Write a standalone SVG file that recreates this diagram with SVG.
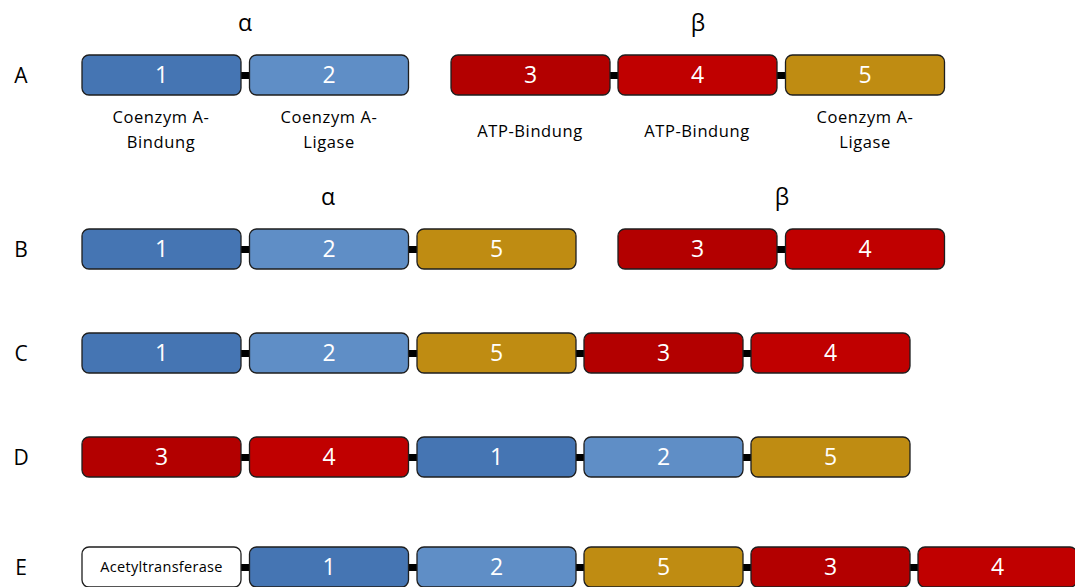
<svg xmlns="http://www.w3.org/2000/svg" width="1075" height="587" viewBox="0 0 1075 587">
<style>
text{font-family:"Open Sans","Liberation Sans",sans-serif;text-anchor:middle}
.box{stroke:#1e1e1e;stroke-width:1.3}
.c1{fill:#4575b3}.c2{fill:#5f8ec6}.c3{fill:#b30000}.c4{fill:#c00000}.c5{fill:#bf8c12}.cw{fill:#fff}
.num{fill:#fff;font-size:23px}
.row{font-size:21px;fill:#000}
.greek{font-size:23px;fill:#000}
.sub{font-size:16.5px;letter-spacing:0.6px;fill:#000}
.conn{fill:#000}
</style>
<defs>
<rect id="b" class="box" width="159" height="40" rx="7"/>
</defs>
<g id="connectors">
<rect class="conn" x="240" y="72" width="10" height="7"/>
<rect class="conn" x="609" y="72" width="10" height="7"/>
<rect class="conn" x="776" y="72" width="10" height="7"/>
<rect class="conn" x="240" y="246" width="10" height="7"/>
<rect class="conn" x="408" y="246" width="10" height="7"/>
<rect class="conn" x="776" y="246" width="10" height="7"/>
<rect class="conn" x="240" y="350" width="10" height="7"/>
<rect class="conn" x="408" y="350" width="10" height="7"/>
<rect class="conn" x="575" y="350" width="10" height="7"/>
<rect class="conn" x="742" y="350" width="10" height="7"/>
<rect class="conn" x="240" y="454" width="10" height="7"/>
<rect class="conn" x="408" y="454" width="10" height="7"/>
<rect class="conn" x="575" y="454" width="10" height="7"/>
<rect class="conn" x="742" y="454" width="10" height="7"/>
<rect class="conn" x="240" y="564" width="10" height="7"/>
<rect class="conn" x="408" y="564" width="10" height="7"/>
<rect class="conn" x="575" y="564" width="10" height="7"/>
<rect class="conn" x="742" y="564" width="10" height="7"/>
<rect class="conn" x="909" y="564" width="10" height="7"/>
</g>
<g id="labels">
<text class="row" x="21" y="83">A</text>
<text class="row" x="21" y="257">B</text>
<text class="row" x="21" y="361">C</text>
<text class="row" x="21" y="465">D</text>
<text class="row" x="21" y="575">E</text>
<text class="greek" x="245" y="31">α</text>
<text class="greek" x="698" y="31">β</text>
<text class="greek" x="328" y="205">α</text>
<text class="greek" x="782" y="205">β</text>
<text class="sub" x="161" y="123">Coenzym A-</text>
<text class="sub" x="161" y="148">Bindung</text>
<text class="sub" x="329" y="123">Coenzym A-</text>
<text class="sub" x="329" y="148">Ligase</text>
<text class="sub" x="530" y="137">ATP-Bindung</text>
<text class="sub" x="697" y="137">ATP-Bindung</text>
<text class="sub" x="865" y="123">Coenzym A-</text>
<text class="sub" x="865" y="148">Ligase</text>
</g>
<g id="rowA">
<g id="A1"><use href="#b" x="82" y="55" class="c1"/><text class="num" x="161.5" y="83">1</text></g>
<g id="A2"><use href="#b" x="249.5" y="55" class="c2"/><text class="num" x="329" y="83">2</text></g>
<g id="A3"><use href="#b" x="451" y="55" class="c3"/><text class="num" x="530.5" y="83">3</text></g>
<g id="A4"><use href="#b" x="618" y="55" class="c4"/><text class="num" x="697.5" y="83">4</text></g>
<g id="A5"><use href="#b" x="785.5" y="55" class="c5"/><text class="num" x="865" y="83">5</text></g>
</g>
<g id="rowB">
<g id="B1"><use href="#b" x="82" y="229" class="c1"/><text class="num" x="161.5" y="257">1</text></g>
<g id="B2"><use href="#b" x="249.5" y="229" class="c2"/><text class="num" x="329" y="257">2</text></g>
<g id="B5"><use href="#b" x="417" y="229" class="c5"/><text class="num" x="496.5" y="257">5</text></g>
<g id="B3"><use href="#b" x="618" y="229" class="c3"/><text class="num" x="697.5" y="257">3</text></g>
<g id="B4"><use href="#b" x="785.5" y="229" class="c4"/><text class="num" x="865" y="257">4</text></g>
</g>
<g id="rowC">
<g id="C1"><use href="#b" x="82" y="333" class="c1"/><text class="num" x="161.5" y="361">1</text></g>
<g id="C2"><use href="#b" x="249.5" y="333" class="c2"/><text class="num" x="329" y="361">2</text></g>
<g id="C5"><use href="#b" x="417" y="333" class="c5"/><text class="num" x="496.5" y="361">5</text></g>
<g id="C3"><use href="#b" x="584" y="333" class="c3"/><text class="num" x="663.5" y="361">3</text></g>
<g id="C4"><use href="#b" x="751" y="333" class="c4"/><text class="num" x="830.5" y="361">4</text></g>
</g>
<g id="rowD">
<g id="D3"><use href="#b" x="82" y="437" class="c3"/><text class="num" x="161.5" y="465">3</text></g>
<g id="D4"><use href="#b" x="249.5" y="437" class="c4"/><text class="num" x="329" y="465">4</text></g>
<g id="D1"><use href="#b" x="417" y="437" class="c1"/><text class="num" x="496.5" y="465">1</text></g>
<g id="D2"><use href="#b" x="584" y="437" class="c2"/><text class="num" x="663.5" y="465">2</text></g>
<g id="D5"><use href="#b" x="751" y="437" class="c5"/><text class="num" x="830.5" y="465">5</text></g>
</g>
<g id="rowE">
<g id="E0"><use href="#b" x="82" y="547" class="cw"/><text x="161.5" y="572" style="font-size:14.5px;letter-spacing:0.3px;fill:#000">Acetyltransferase</text></g>
<g id="E1"><use href="#b" x="249.5" y="547" class="c1"/><text class="num" x="329" y="575">1</text></g>
<g id="E2"><use href="#b" x="417" y="547" class="c2"/><text class="num" x="496.5" y="575">2</text></g>
<g id="E5"><use href="#b" x="584" y="547" class="c5"/><text class="num" x="663.5" y="575">5</text></g>
<g id="E3"><use href="#b" x="751" y="547" class="c3"/><text class="num" x="830.5" y="575">3</text></g>
<g id="E4"><use href="#b" x="918" y="547" class="c4"/><text class="num" x="997.5" y="575">4</text></g>
</g>
</svg>
